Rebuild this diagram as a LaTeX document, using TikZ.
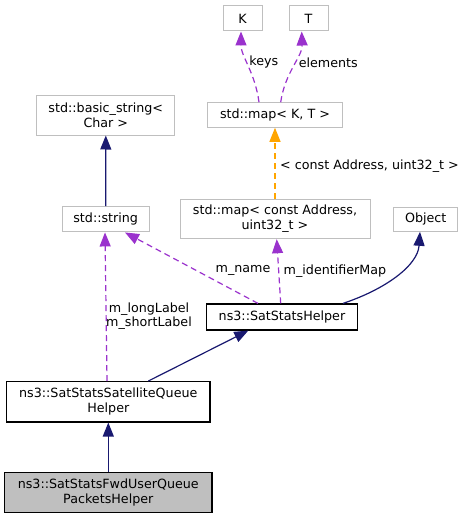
\documentclass[tikz,border=0pt]{standalone}
\usepackage{fontspec}
\setmainfont{DejaVu Sans}
\usetikzlibrary{arrows.meta,calc}
\definecolor{grayb}{HTML}{BFBFBF}
\definecolor{navyc}{HTML}{191970}
\definecolor{purpc}{HTML}{9A32CD}
\definecolor{orangec}{HTML}{FFA500}
\tikzset{
  box/.style={draw=grayb, line width=1pt, inner sep=0pt, align=center, font=\fontsize{12.7}{15}\selectfont},
  blackbox/.style={box, draw=black, line width=1.2pt},
  mainbox/.style={box, draw=black, line width=1.2pt, fill=grayb},
  lbl/.style={inner sep=0pt, align=center, font=\fontsize{12.7}{14.5}\selectfont},
  arr/.style={line width=1.2pt, -{Triangle[length=14pt,width=11pt]}},
  inherit/.style={arr, draw=navyc},
  usage/.style={arr, draw=purpc, dash pattern=on 6pt off 4pt},
  templ/.style={arr, draw=orangec, dash pattern=on 6pt off 4pt}
}
\begin{document}
\begin{tikzpicture}[x=1pt,y=-1pt]
\useasboundingbox (0,0) rectangle (467,519);
\fill[white] (0,0) rectangle (467,519);
% nodes
\node[box, minimum width=39pt, minimum height=25pt] (K) at (242.5,18.5) {K};
\node[box, minimum width=39pt, minimum height=25pt] (T) at (308.5,18.5) {T};
\node[box, minimum width=134.6pt, minimum height=24.6pt] (mapKT) at (275,115) {std::map< K, T >};
\node[box, minimum width=190pt, minimum height=39.4pt] (mapAddr) at (275,219) {std::map< const Address,\\uint32\_t >};
\node[box, minimum width=64pt, minimum height=24pt] (Object) at (425.7,219.3) {Object};
\node[box, minimum width=138.3pt, minimum height=40pt] (basicstr) at (105.8,115) {std::basic\_string<\\Char >};
\node[box, minimum width=86.7pt, minimum height=25.3pt] (string) at (105.7,219.3) {std::string};
\node[blackbox, minimum width=150.6pt, minimum height=26pt] (helper) at (282,317) {ns3::SatStatsHelper};
\node[blackbox, minimum width=203.3pt, minimum height=40.3pt] (queue) at (108.3,401.8) {ns3::SatStatsSatelliteQueue\\Helper};
\node[mainbox, minimum width=207.3pt, minimum height=40pt] (fwd) at (108.3,492.3) {ns3::SatStatsFwdUserQueue\\PacketsHelper};
% labels
\node[lbl] (lkeys) at (263.8,62.3) {keys};
\node[lbl] (lelem) at (328.3,62.3) {elements};
\node[lbl] (lconst) at (369.5,166.3) {< const Address, uint32\_t >};
\node[lbl] (lname) at (243,270.7) {m\_name};
\node[lbl] (lident) at (335,270.7) {m\_identifierMap};
\node[lbl] (llabel) at (149,316) {m\_longLabel\\m\_shortLabel};
% edges
\draw[usage] ([xshift=-16pt]mapKT.north) .. controls ($(mapKT.north)+(-20,-30)$) and ($(K.south)+(-1.5,25)$) .. ([xshift=-1.5pt]K.south);
\draw[usage] ([xshift=5.7pt]mapKT.north) .. controls ($(mapKT.north)+(10,-30)$) and ($(T.south)+(-6,25)$) .. ([xshift=-6.8pt]T.south);
\draw[templ] (mapAddr.north) -- (mapKT.south);
\draw[inherit] (string.north) -- (basicstr.south);
\draw[usage] ([xshift=-24pt]helper.north) -- ([xshift=19.3pt]string.south);
\draw[usage] ([xshift=-1.3pt]helper.north) -- ([xshift=1.7pt]mapAddr.south);
\draw[inherit] ([xshift=61pt]helper.north) .. controls ($(helper.north)+(103,-14)$) and ($(Object.south)+(-8,34)$) .. ([xshift=-5.7pt]Object.south);
\draw[usage] ([xshift=-1.3pt]queue.north) -- ([xshift=-0.7pt]string.south);
\draw[inherit] ([xshift=40pt]queue.north) -- ([xshift=-33.7pt]helper.south);
\draw[inherit] (fwd.north) -- (queue.south);
\end{tikzpicture}
\end{document}
